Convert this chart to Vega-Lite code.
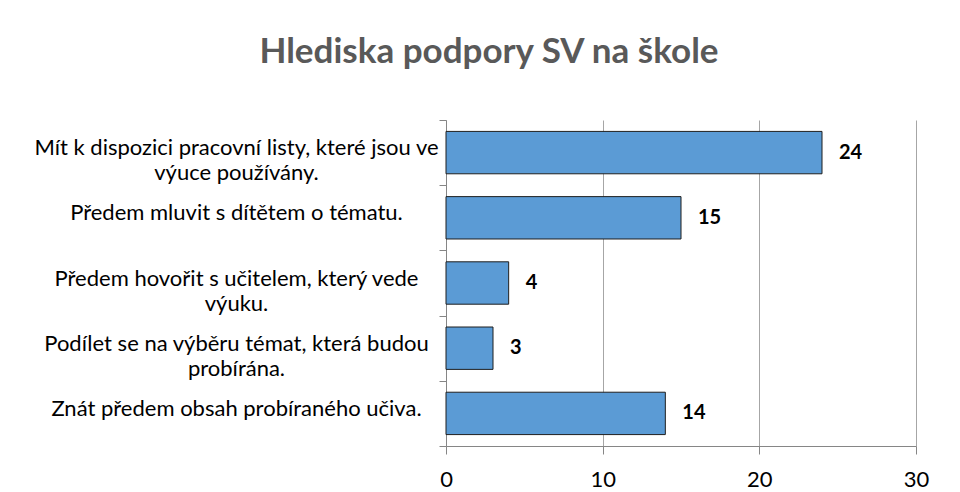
{
  "$schema": "https://vega.github.io/schema/vega-lite/v6.json",
  "width": 470,
  "height": 326,
  "autosize": {"type": "none"},
  "padding": {"left": 446, "top": 120, "right": 44, "bottom": 46},
  "background": "white",
  "title": {
    "text": "Hlediska podpory SV na škole",
    "font": "Lato",
    "fontSize": 35,
    "fontWeight": "bold",
    "color": "#595959",
    "anchor": "middle",
    "frame": "group",
    "dx": -192,
    "offset": 39
  },
  "data": {
    "values": [
      {"kategorie": "Mít k dispozici pracovní listy, které jsou ve\nvýuce používány.", "pocet": 24},
      {"kategorie": "Předem mluvit s dítětem o tématu.", "pocet": 15},
      {"kategorie": "Předem hovořit s učitelem, který vede\nvýuku.", "pocet": 4},
      {"kategorie": "Podílet se na výběru témat, která budou\nprobírána.", "pocet": 3},
      {"kategorie": "Znát předem obsah probíraného učiva.", "pocet": 14}
    ]
  },
  "config": {
    "view": {"stroke": null},
    "font": "Lato"
  },
  "encoding": {
    "y": {
      "field": "kategorie",
      "type": "nominal",
      "sort": null,
      "title": null,
      "scale": {"paddingInner": 0, "paddingOuter": 0},
      "axis": {
        "labelExpr": "split(datum.label, '\\n')",
        "labelFont": "Lato",
        "labelFontSize": 22,
        "labelColor": "#000000",
        "labelLineHeight": 25,
        "labelLimit": 600,
        "labelAlign": "center",
        "labelBaseline": "middle",
        "labelPadding": 203,
        "labelOffset": -5,
        "tickBand": "extent",
        "tickSize": 7,
        "tickColor": "#868686",
        "domainColor": "#868686",
        "grid": false
      }
    },
    "x": {
      "field": "pocet",
      "type": "quantitative",
      "title": null,
      "scale": {"domain": [0, 30]},
      "axis": {
        "values": [0, 10, 20, 30],
        "labelFont": "Lato",
        "labelFontSize": 22,
        "labelColor": "#000000",
        "labelPadding": 15,
        "labelFlush": false,
        "tickSize": 8,
        "tickColor": "#868686",
        "domainColor": "#868686",
        "grid": true,
        "gridColor": "#A6A6A6",
        "gridWidth": 1
      }
    }
  },
  "layer": [
    {
      "mark": {"type": "bar", "height": {"band": 0.65}, "fill": "#5B9BD5", "stroke": "#1F1F1F", "strokeWidth": 1}
    },
    {
      "mark": {"type": "text", "align": "left", "baseline": "middle", "dx": 17, "font": "Lato", "fontSize": 20, "fontWeight": "bold", "color": "#000000"},
      "encoding": {"text": {"field": "pocet", "type": "quantitative"}}
    }
  ]
}
